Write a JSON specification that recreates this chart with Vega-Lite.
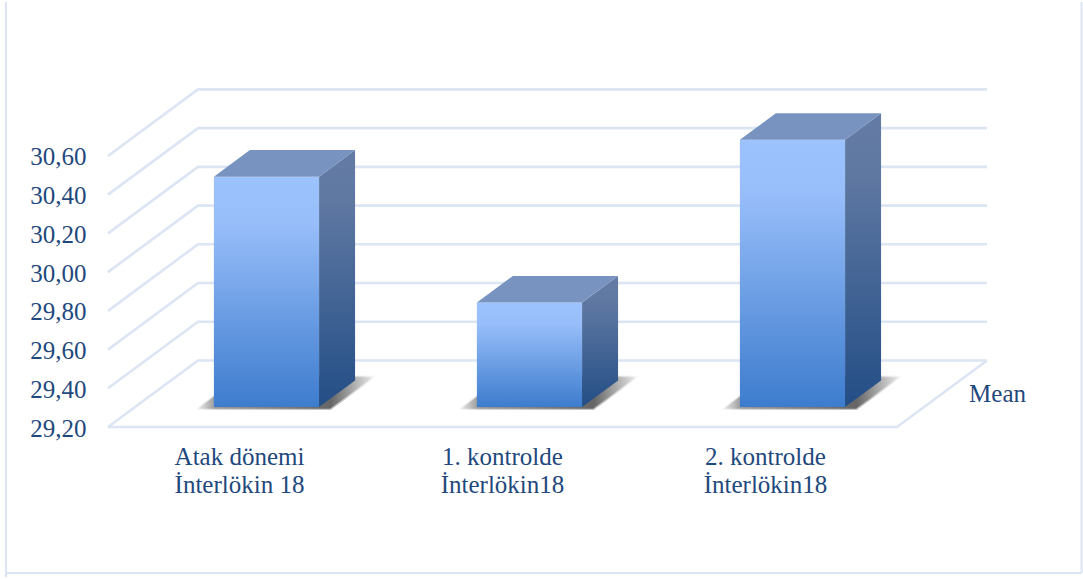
{
  "$schema": "https://vega.github.io/schema/vega-lite/v6.json",
  "width": 1083,
  "height": 579,
  "padding": 0,
  "autosize": {"type": "fit", "contains": "padding"},
  "background": "white",
  "view": {"stroke": null},
  "params": [
    {"name": "dx", "value": 0.342},
    {"name": "dy", "value": 0.3436},
    {"name": "floor", "value": 29.2}
  ],
  "datasets": {
    "bars": [
      {"slot": 0, "value": 30.39, "label": "Atak dönemi\nİnterlökin 18"},
      {"slot": 1, "value": 29.74, "label": "1. kontrolde\nİnterlökin18"},
      {"slot": 2, "value": 30.58, "label": "2. kontrolde\nİnterlökin18"}
    ],
    "ticks": [
      {"tick": 29.2}, {"tick": 29.4}, {"tick": 29.6}, {"tick": 29.8},
      {"tick": 30.0}, {"tick": 30.2}, {"tick": 30.4}, {"tick": 30.6}
    ],
    "series": [{"name": "Mean"}],
    "frame": [
      {"edge": "left", "px": -0.3877, "px2": -0.3877, "py": 28.4256, "py2": 31.3949},
      {"edge": "right", "px": 3.7015, "px2": 3.7015, "py": 28.4462, "py2": 31.3949},
      {"edge": "bottom", "px": -0.3877, "px2": 3.7015, "py": 28.4462, "py2": 28.4462}
    ]
  },
  "data": {"name": "bars"},
  "encoding": {
    "x": {
      "field": "px",
      "type": "quantitative",
      "title": null,
      "axis": null,
      "scale": {"domain": [-0.41065, 3.70722], "nice": false, "zero": false}
    },
    "y": {
      "field": "py",
      "type": "quantitative",
      "title": null,
      "scale": {"domain": [28.42564, 31.39487], "nice": false, "zero": false},
      "axis": {
        "values": [29.2, 29.4, 29.6, 29.8, 30.0, 30.2, 30.4, 30.6],
        "labelExpr": "replace(format(datum.value, '.2f'), '.', ',')",
        "offset": -92,
        "labelPadding": 6,
        "labelOffset": 1,
        "domain": false,
        "ticks": false,
        "grid": false,
        "labelFont": "Liberation Serif",
        "labelFontSize": 25,
        "labelColor": "#1F497D"
      }
    }
  },
  "layer": [
    {
      "description": "Panel frame",
      "data": {"name": "frame"},
      "mark": {"type": "rule", "stroke": "#DBE5F4", "strokeWidth": 2},
      "encoding": {
        "x2": {"field": "px2"},
        "y2": {"field": "py2"}
      }
    },
    {
      "description": "Gridlines along the left wall and back wall",
      "data": {"name": "ticks"},
      "transform": [
        {"calculate": "[0, 1, 2]", "as": "corner"},
        {"flatten": ["corner"]},
        {"calculate": "[0, dx, 3 + dx][datum.corner]", "as": "px"},
        {"calculate": "datum.tick + (datum.corner > 0 ? dy : 0)", "as": "py"}
      ],
      "mark": {"type": "line", "stroke": "#DBE5F4", "strokeWidth": 2.6},
      "encoding": {"detail": {"field": "tick"}, "order": {"field": "corner"}}
    },
    {
      "description": "Front and right edges of the floor",
      "data": {"name": "ticks"},
      "transform": [
        {"filter": "datum.tick === floor"},
        {"calculate": "[0, 1, 2]", "as": "corner"},
        {"flatten": ["corner"]},
        {"calculate": "[0, 3, 3 + dx][datum.corner]", "as": "px"},
        {"calculate": "floor + (datum.corner === 2 ? dy : 0)", "as": "py"}
      ],
      "mark": {"type": "line", "stroke": "#DBE5F4", "strokeWidth": 2.6},
      "encoding": {"order": {"field": "corner"}}
    },
    {
      "description": "Pale outer rim of the floor shadow",
      "transform": [
        {"calculate": "[0, 1, 2, 3]", "as": "corner"},
        {"flatten": ["corner"]},
        {"calculate": "datum.slot + [0.24 + dx * 0.255, 0.24 + dx * 0.77, 0.76 + dx * 0.255, 0.76 + dx * 0.77][datum.corner]", "as": "px"},
        {"calculate": "floor + dy * (datum.corner === 0 ? 0.255 : 0.77)", "as": "py"},
        {"calculate": "floor + dy * (datum.corner === 3 ? 0.77 : 0.255)", "as": "py2"}
      ],
      "mark": {
        "type": "area",
        "fill": {
          "x1": 0, "y1": 0, "x2": 1, "y2": 0,
          "gradient": "linear",
          "stops": [
            {"offset": 0, "color": "#ffffff"},
            {"offset": 0.12, "color": "#d8d8d8"},
            {"offset": 0.8, "color": "#bdbdbd"},
            {"offset": 1, "color": "#ffffff"}
          ]
        }
      },
      "encoding": {"y2": {"field": "py2"}, "detail": {"field": "slot"}}
    },
    {
      "description": "Soft floor shadow behind each bar",
      "transform": [
        {"calculate": "[0, 1, 2, 3]", "as": "corner"},
        {"flatten": ["corner"]},
        {"calculate": "datum.slot + [0.247 + dx * 0.275, 0.247 + dx * 0.75, 0.75 + dx * 0.275, 0.75 + dx * 0.75][datum.corner]", "as": "px"},
        {"calculate": "floor + dy * (datum.corner === 0 ? 0.275 : 0.75)", "as": "py"},
        {"calculate": "floor + dy * (datum.corner === 3 ? 0.75 : 0.275)", "as": "py2"}
      ],
      "mark": {
        "type": "area",
        "fill": {
          "x1": 0, "y1": 0, "x2": 1, "y2": 0,
          "gradient": "linear",
          "stops": [
            {"offset": 0, "color": "#ececec"},
            {"offset": 0.1, "color": "#9a9a9a"},
            {"offset": 0.76, "color": "#666666"},
            {"offset": 1, "color": "#e8e8e8"}
          ]
        }
      },
      "encoding": {"y2": {"field": "py2"}, "detail": {"field": "slot"}}
    },
    {
      "description": "Front face of each bar",
      "transform": [
        {"calculate": "datum.slot + 0.3 + dx * 0.3", "as": "px"},
        {"calculate": "datum.slot + 0.7 + dx * 0.3", "as": "px2"},
        {"calculate": "datum.value + dy * 0.3", "as": "py"},
        {"calculate": "floor + dy * 0.3", "as": "py2"}
      ],
      "mark": {
        "type": "rect",
        "fill": {
          "x1": 0, "y1": 0, "x2": 0, "y2": 1,
          "gradient": "linear",
          "stops": [
            {"offset": 0, "color": "#9DC3FF"},
            {"offset": 0.2, "color": "#98BEFA"},
            {"offset": 1, "color": "#3D7CCD"}
          ]
        }
      },
      "encoding": {"x2": {"field": "px2"}, "y2": {"field": "py2"}}
    },
    {
      "description": "Right side face of each bar",
      "transform": [
        {"calculate": "[0, 1]", "as": "corner"},
        {"flatten": ["corner"]},
        {"calculate": "0.3 + 0.4 * datum.corner", "as": "depth"},
        {"calculate": "datum.slot + 0.7 + dx * datum.depth", "as": "px"},
        {"calculate": "datum.value + dy * datum.depth", "as": "py"},
        {"calculate": "floor + dy * datum.depth", "as": "py2"}
      ],
      "mark": {
        "type": "area",
        "fill": {
          "x1": 0, "y1": 0, "x2": 0, "y2": 1,
          "gradient": "linear",
          "stops": [
            {"offset": 0, "color": "#647CA5"},
            {"offset": 0.2, "color": "#5F78A2"},
            {"offset": 1, "color": "#234E86"}
          ]
        }
      },
      "encoding": {"y2": {"field": "py2"}, "detail": {"field": "slot"}}
    },
    {
      "description": "Top face of each bar",
      "transform": [
        {"calculate": "[0, 1, 2, 3]", "as": "corner"},
        {"flatten": ["corner"]},
        {"calculate": "datum.slot + [0.3 + dx * 0.3, 0.3 + dx * 0.7, 0.7 + dx * 0.3, 0.7 + dx * 0.7][datum.corner]", "as": "px"},
        {"calculate": "datum.value + dy * (datum.corner === 0 ? 0.3 : 0.7)", "as": "py"},
        {"calculate": "datum.value + dy * (datum.corner === 3 ? 0.7 : 0.3)", "as": "py2"}
      ],
      "mark": {"type": "area", "fill": "#7893C0"},
      "encoding": {"y2": {"field": "py2"}, "detail": {"field": "slot"}}
    },
    {
      "description": "Category labels under the floor",
      "transform": [
        {"calculate": "datum.slot + 0.5", "as": "px"},
        {"calculate": "floor - 0.095", "as": "py"}
      ],
      "mark": {
        "type": "text",
        "font": "Liberation Serif",
        "fontSize": 25,
        "color": "#1F497D",
        "align": "center",
        "baseline": "top",
        "lineBreak": "\n",
        "lineHeight": 28
      },
      "encoding": {"text": {"field": "label"}}
    },
    {
      "description": "Series name beside the floor",
      "data": {"name": "series"},
      "transform": [
        {"calculate": "3.274", "as": "px"},
        {"calculate": "floor + 0.17", "as": "py"}
      ],
      "mark": {
        "type": "text",
        "font": "Liberation Serif",
        "fontSize": 25,
        "color": "#1F497D",
        "align": "left",
        "baseline": "middle"
      },
      "encoding": {"text": {"field": "name"}}
    }
  ]
}
